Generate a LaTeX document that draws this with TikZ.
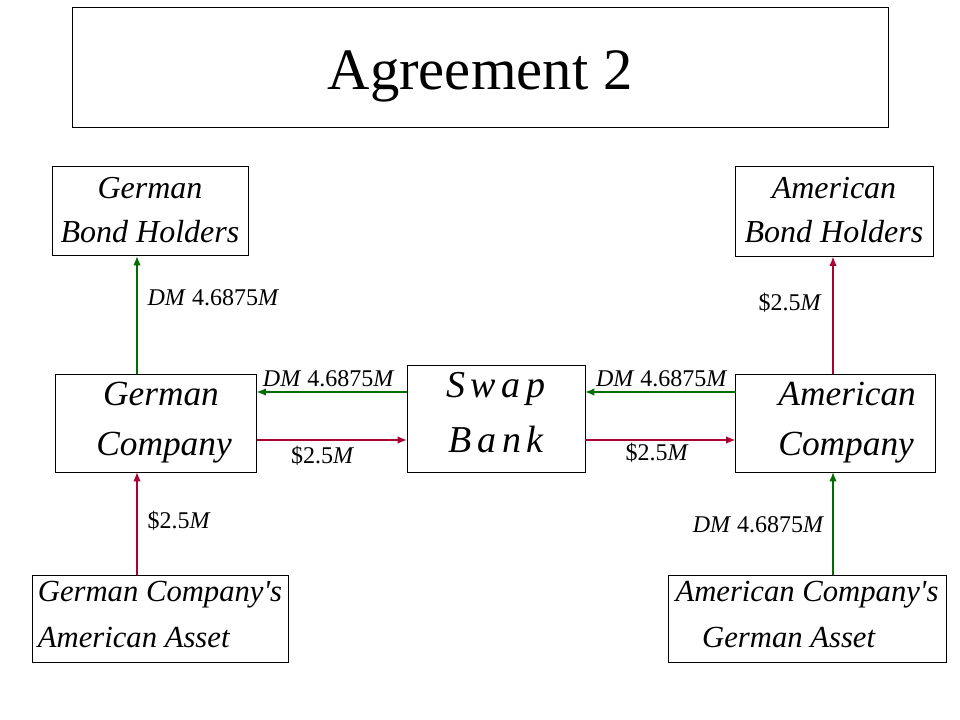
\documentclass[tikz,border=0pt]{standalone}
\usepackage{fontspec}
\setmainfont{Liberation Serif}
\newfontfamily\bankfont[LetterSpace=15]{Liberation Serif}
\usetikzlibrary{arrows.meta}
\definecolor{dmgreen}{RGB}{0,110,0}
\definecolor{usdred}{RGB}{170,0,50}

\newcommand{\dmamt}{\textit{DM}~4.6875\textit{M}}
\newcommand{\usdamt}{\$2.5\textit{M}}

\begin{document}
\begin{tikzpicture}[x=0.75pt, y=-0.75pt,
  party/.style={draw, line width=0.75pt, inner sep=0pt, outer sep=0pt,
    align=center, font=\itshape\fontsize{24}{33}\selectfont},
  company/.style={party, font=\itshape\fontsize{26.5}{37.5}\selectfont},
  asset/.style={party, align=left, font=\itshape\fontsize{23}{34}\selectfont},
  dm/.style={draw=dmgreen, line width=1pt, -{Latex[length=7pt,width=5.5pt]}},
  usd/.style={draw=usdred, line width=1pt, -{Latex[length=7pt,width=5.5pt]}},
  amount/.style={inner sep=0pt, font=\fontsize{18}{20}\selectfont}
]

\useasboundingbox (0,0) rectangle (960,720);

\node[draw, line width=0.75pt, inner sep=0pt, minimum width=612pt, minimum height=90pt,
  text height=36pt, text depth=3pt, font=\fontsize{44}{50}\selectfont]
  (title) at (480,68) {Agreement 2};

\node[party, minimum width=147pt, minimum height=66.75pt] (gbh) at (150,211.5)
  {German\\Bond Holders\rule[-3pt]{0pt}{3pt}};
\node[party, minimum width=148.5pt, minimum height=67.5pt] (abh) at (834,211.5)
  {American\\Bond Holders\rule[-3pt]{0pt}{3pt}};
\node[company, minimum width=150.75pt, minimum height=73.5pt] (gco) at (156,423)
  {\hspace*{7.5pt}German\\\hspace*{12pt}Company};
\node[company, minimum width=150pt, minimum height=73.5pt] (aco) at (835.5,423)
  {\hspace*{17.5pt}American\\\hspace*{16pt}Company};
\node[party, minimum width=133.5pt, minimum height=80.25pt,
  font=\bankfont\itshape\fontsize{28.5}{41}\selectfont] (bank) at (496,418.5)
  {Swap\\Bank\rule[-9pt]{0pt}{9pt}};
\node[asset, minimum width=192pt, minimum height=65.25pt] (gas) at (160,618.5)
  {German Company\textquotesingle s\\American Asset\rule[-6pt]{0pt}{6pt}};
\node[asset, minimum width=208.5pt, minimum height=65.25pt] (aas) at (807,618.5)
  {American Company\textquotesingle s\\\hspace*{20pt}German Asset\rule[-6pt]{0pt}{6pt}};

\coordinate (lx) at (137,0);
\coordinate (rx) at (833,0);
\coordinate (ty) at (0,392);
\coordinate (by) at (0,440);

% bond payments
\draw[dm] (gco.north -| lx) -- (gbh.south -| lx)
  node[amount, pos=0.65, anchor=west, xshift=7.5pt] {\dmamt};
\draw[usd] (aco.north -| rx) -- (abh.south -| rx)
  node[amount, pos=0.61, anchor=east, xshift=-8pt] {\usdamt};

% asset income
\draw[usd] (gas.north -| lx) -- (gco.south -| lx)
  node[amount, pos=0.53, anchor=west, xshift=7.5pt] {\usdamt};
\draw[dm] (aas.north -| rx) -- (aco.south -| rx)
  node[amount, pos=0.49, anchor=east, xshift=-6pt] {\dmamt};

% swap flows
\draw[dm] (bank.west |- ty) -- (gco.east |- ty)
  node[amount, pos=0.52, anchor=south, yshift=3pt] {\dmamt};
\draw[usd] (gco.east |- by) -- (bank.west |- by)
  node[amount, pos=0.44, anchor=north, yshift=-4pt] {\usdamt};
\draw[dm] (aco.west |- ty) -- (bank.east |- ty)
  node[amount, pos=0.49, anchor=south, yshift=3pt] {\dmamt};
\draw[usd] (bank.east |- by) -- (aco.west |- by)
  node[amount, pos=0.48, anchor=north, yshift=-2pt] {\usdamt};

\end{tikzpicture}
\end{document}
